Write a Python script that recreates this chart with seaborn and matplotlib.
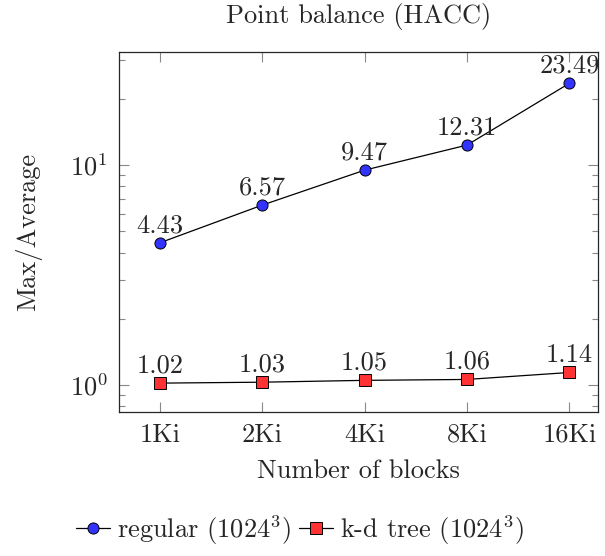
import pandas as pd
import matplotlib
matplotlib.use("Agg")
import matplotlib.pyplot as plt
import seaborn as sns

# data
blocks = ['1Ki', '2Ki', '4Ki', '8Ki', '16Ki']
regular = [4.43, 6.57, 9.47, 12.31, 23.49]
kdtree = [1.02, 1.03, 1.05, 1.06, 1.14]

df = pd.DataFrame({'pos': range(len(blocks)), 'blocks': blocks,
                   'regular': regular, 'kdtree': kdtree})

sns.set_style("ticks")
plt.rcParams['font.family'] = ['cmr10', 'DejaVu Serif']
plt.rcParams['mathtext.fontset'] = 'cm'
plt.rcParams['axes.formatter.use_mathtext'] = True
fs = 19

fig = plt.figure(figsize=(6.05, 5.56), dpi=100)
ax = fig.add_axes([119 / 605, 1 - 412 / 556, (598 - 119) / 605, (412 - 52) / 556])

sns.lineplot(data=df, x='pos', y='regular', ax=ax, color='black', lw=0.9,
             marker='o', markersize=8, markerfacecolor='#3333ff',
             markeredgecolor='black', markeredgewidth=0.7,
             label=r'regular ($1024^3$)')
sns.lineplot(data=df, x='pos', y='kdtree', ax=ax, color='black', lw=0.9,
             marker='s', markersize=8, markerfacecolor='#ff3333',
             markeredgecolor='black', markeredgewidth=0.7,
             label=r'k-d tree ($1024^3$)')

for x, y in zip(df['pos'], df['regular']):
    ax.annotate(f'{y:.2f}', (x, y), xytext=(0, 4), textcoords='offset points',
                ha='center', va='bottom', fontsize=fs)
for x, y in zip(df['pos'], df['kdtree']):
    ax.annotate(f'{y:.2f}', (x, y), xytext=(0, 4), textcoords='offset points',
                ha='center', va='bottom', fontsize=fs)

ax.set_yscale('log')
ax.set_ylim(0.754, 32.6)
ax.set_xlim(-0.4, 4.28)
ax.set_xticks(df['pos'])
ax.set_xticklabels(blocks)
ax.tick_params(which='both', direction='in', top=True, right=True,
               color='#888888', labelsize=fs, pad=8)
ax.tick_params(which='major', length=7, width=0.8)
ax.tick_params(which='minor', length=4, width=0.8)
for s in ax.spines.values():
    s.set_linewidth(0.9)

ax.set_title('Point balance (HACC)', fontsize=fs, pad=21)
ax.set_xlabel('Number of blocks', fontsize=fs, labelpad=9)
ax.set_ylabel('Max/Average', fontsize=fs, labelpad=20)

handles, labels = ax.get_legend_handles_labels()
ax.get_legend().remove()
fig.legend(handles, labels, loc='center', bbox_to_anchor=(0.495, 0.047), ncol=2,
           frameon=False, fontsize=fs, handlelength=1.3, handletextpad=0.25,
           columnspacing=0.3)

fig.savefig('out.png', dpi=100)
